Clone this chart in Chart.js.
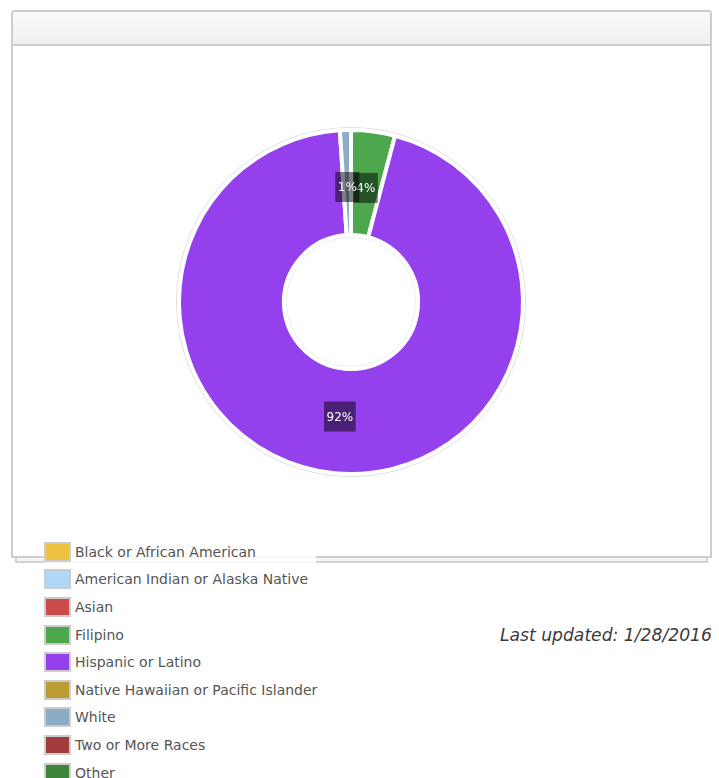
<!DOCTYPE html>
<html>
<head>
<meta charset="utf-8">
<title>Ethnicity</title>
<script src="https://cdn.jsdelivr.net/npm/chart.js@4.4.1/dist/chart.umd.min.js"></script>
<style>
    body { margin: 0; background: #fff; font-family: "DejaVu Sans", Verdana, sans-serif; }
    #panel {
        position: absolute; left: 11px; top: 10px; width: 697px; height: 544px;
        border: 2px solid #cdcdcd; border-radius: 4px 4px 0 0; background: #fff;
    }
    #panelHead {
        height: 32px; border-bottom: 2px solid #cdcdcd; border-radius: 3px 3px 0 0;
        background: linear-gradient(#fafafa, #f0f0f0);
    }
    #panelShadow {
        position: absolute; left: 15px; top: 558px; width: 689px; height: 3px;
        border: 2px solid #d2d2d2; border-top: 0; background: #f6f6f6;
    }
    #chartBox { position: absolute; left: 151px; top: 102px; width: 400px; height: 400px; }
    #legend {
        position: absolute; left: 44px; top: 538px; width: 272px;
        background: rgba(255, 255, 255, 0.85);
    }
    .legend-row { display: flex; align-items: center; height: 27.6px; }
    .legend-box { flex-shrink: 0; width: 23px; height: 16px; border: 2px solid #cccccc; }
    .legend-text { margin-left: 4px; font-size: 14px; color: #555; white-space: nowrap; }
    #updated {
        position: absolute; right: 7px; top: 625px;
        font-size: 17.2px; font-style: italic; color: #3a3a3a;
    }
</style>
</head>
<body>

<div id="panel"><div id="panelHead"></div></div>
<div id="panelShadow"></div>
<div id="chartBox"><canvas id="Chart" width="400" height="400"></canvas></div>
<div id="legend"></div>
<div id="updated">Last updated: 1/28/2016</div>

<script>
// chart data (percent of students)
const groups = [
    'Black or African American',
    'American Indian or Alaska Native',
    'Asian',
    'Filipino',
    'Hispanic or Latino',
    'Native Hawaiian or Pacific Islander',
    'White',
    'Two or More Races',
    'Other'
];
const percents = [0, 0, 0, 4, 92, 0, 1, 0, 0];
const colors = ['#edc240', '#afd8f8', '#cb4b4b', '#4da74d', '#9440ed', '#bd9b33', '#8cacc6', '#a23c3c', '#3d853d'];

// faint ring around the donut (outside and inside)
const ringPlugin = {
    id: 'ring',
    beforeDatasetsDraw(chart) {
        const arc = chart.getDatasetMeta(0).data[0];
        const ctx = chart.ctx;
        ctx.save();
        ctx.lineWidth = 1;
        ctx.strokeStyle = '#dcdcdc';
        ctx.beginPath();
        ctx.arc(arc.x, arc.y, arc.outerRadius + 2.5, 0, Math.PI * 2);
        ctx.stroke();
        ctx.strokeStyle = '#ececec';
        ctx.beginPath();
        ctx.arc(arc.x, arc.y, arc.innerRadius - 2.5, 0, Math.PI * 2);
        ctx.stroke();
        ctx.restore();
    }
};

// dark boxes with the percent on each slice
const labelPlugin = {
    id: 'sliceLabels',
    afterDatasetsDraw(chart) {
        const ctx = chart.ctx;
        const values = chart.data.datasets[0].data;
        ctx.save();
        ctx.font = '12px "DejaVu Sans", Verdana, sans-serif';
        ctx.textAlign = 'center';
        ctx.textBaseline = 'middle';
        chart.getDatasetMeta(0).data.forEach((arc, i) => {
            if (!values[i]) return;
            const mid = (arc.startAngle + arc.endAngle) / 2;
            const r = (arc.innerRadius + arc.outerRadius) / 2 - 4.5;
            const x = arc.x + Math.cos(mid) * r;
            const y = arc.y + Math.sin(mid) * r;
            const text = values[i] + '%';
            const w = ctx.measureText(text).width + 5;
            ctx.fillStyle = 'rgba(0, 0, 0, 0.5)';
            ctx.fillRect(x - w / 2, y - 15, w, 30);
            ctx.fillStyle = '#fff';
            ctx.fillText(text, x, y + 1);
        });
        ctx.restore();
    }
};

const ctx = document.getElementById('Chart').getContext('2d');
const myChart = new Chart(ctx, {
    type: 'doughnut',
    data: {
        labels: groups,
        datasets: [{
            data: percents,
            backgroundColor: colors,
            borderColor: '#fff',
            borderWidth: 4,
            radius: 172,
            cutout: '39%'
        }]
    },
    options: {
        responsive: false,
        animation: false,
        plugins: {
            legend: { display: false },
            tooltip: { enabled: false }
        }
    },
    plugins: [ringPlugin, labelPlugin]
});

// html legend under the panel
const legendBox = document.getElementById('legend');
groups.forEach((name, i) => {
    const row = document.createElement('div');
    row.classList.add('legend-row');
    const box = document.createElement('div');
    box.classList.add('legend-box');
    box.style.background = colors[i];
    const txt = document.createElement('span');
    txt.classList.add('legend-text');
    txt.textContent = name;
    row.appendChild(box);
    row.appendChild(txt);
    legendBox.appendChild(row);
});
</script>
</body>
</html>
